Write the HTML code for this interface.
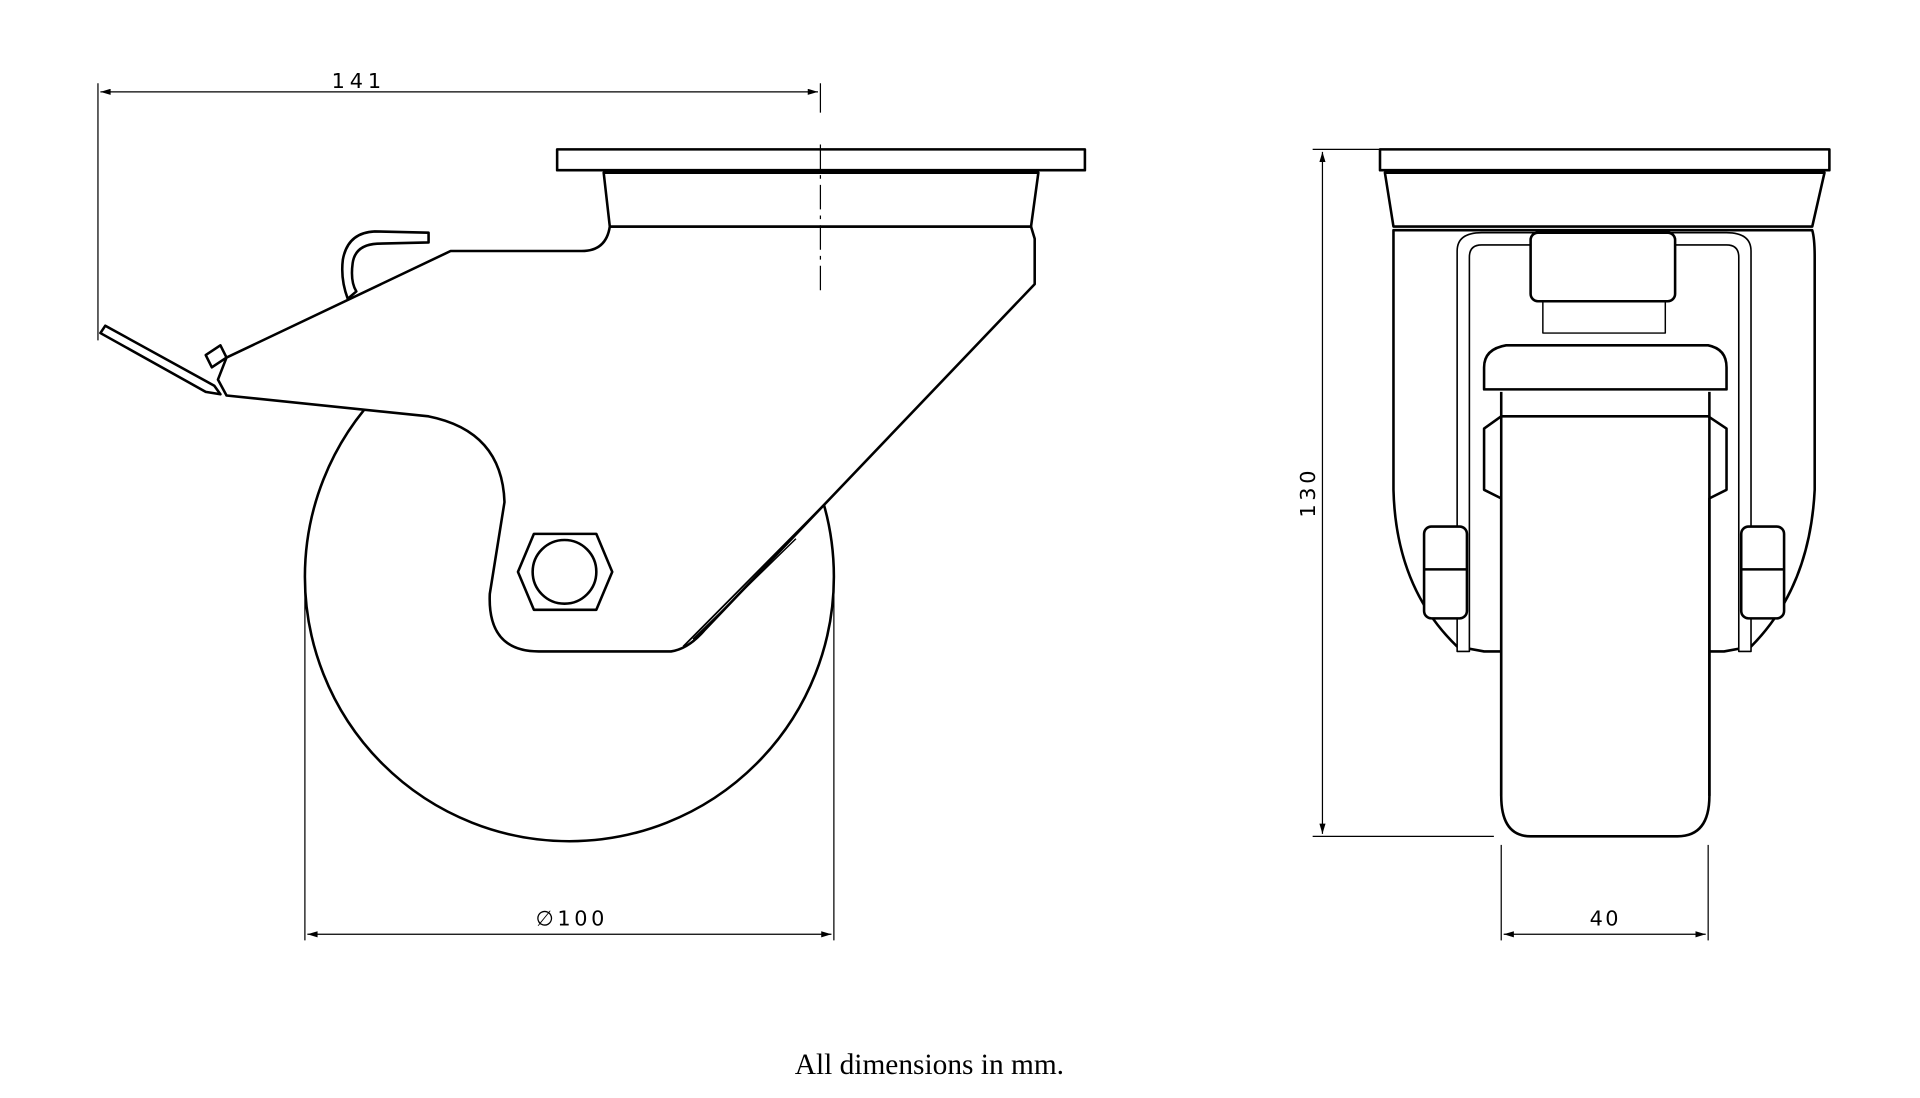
<!DOCTYPE html>
<html><head><meta charset="utf-8"><style>
html,body{margin:0;padding:0;background:#fff;}
svg{display:block;}
</style></head><body>
<svg width="1920" height="1098" viewBox="0 0 1568 896.7" preserveAspectRatio="none" xmlns="http://www.w3.org/2000/svg">
<defs>
<marker id="a" viewBox="0 0 10 6" refX="10" refY="3" markerWidth="14" markerHeight="5" orient="auto-start-reverse" markerUnits="userSpaceOnUse"><path d="M0,0 L10,3 L0,6 z" fill="#000"/></marker>
</defs>
<g fill="none" stroke="#000" stroke-width="1">
<line x1="80" y1="68" x2="80" y2="278"/>
<line x1="670" y1="68" x2="670" y2="92"/>
<line x1="82" y1="75" x2="668" y2="75" marker-start="url(#a)" marker-end="url(#a)"/>
<line x1="249" y1="470" x2="249" y2="768"/>
<line x1="681" y1="470" x2="681" y2="768"/>
<line x1="251" y1="763" x2="679" y2="763" marker-start="url(#a)" marker-end="url(#a)"/>
<line x1="1072" y1="122" x2="1127" y2="122"/>
<line x1="1072" y1="683" x2="1220" y2="683"/>
<line x1="1080" y1="124" x2="1080" y2="681" marker-start="url(#a)" marker-end="url(#a)"/>
<line x1="1226" y1="690" x2="1226" y2="768"/>
<line x1="1395" y1="690" x2="1395" y2="768"/>
<line x1="1228" y1="763" x2="1393" y2="763" marker-start="url(#a)" marker-end="url(#a)"/>
</g>
<g fill="#fff" stroke="#000" stroke-width="2.1" stroke-linejoin="round">
<circle cx="465" cy="471" r="216"/>
<path d="M498,185 Q495,205 475,205 L368,205 L185,292 L178,310 L185,323 L350,340 Q410,352 412,410 L400,485 Q398,532 440,532 L548,532 Q562,530 575,515 L845,232 L845,195 L842,185 Z"/>
<line x1="558" y1="528" x2="677" y2="408" stroke-width="1.5"/>
<line x1="566" y1="522" x2="650" y2="440" stroke-width="1.2"/>
<rect x="455" y="122" width="431" height="17"/>
<path d="M493,141 L848,141 L842,185 L498,185 Z"/>
<path d="M82,272 L86,266 L175,315 L180,322 L168,320 Z"/>
<path d="M168,290 L180,282 L185,292 L173,300 Z"/>
<path d="M350,190 L350,198 L308,199 Q290,200 288,215 Q286,230 291,238 L284,244 Q278,228 280,212 Q284,190 306,189 Z"/>
<polygon points="436,436 487,436 500,467 487,498 436,498 423,467"/>
<circle cx="461" cy="467" r="26"/>
<path d="M1138,188 L1480,188 Q1482,195 1482,210 L1482,400 Q1478,480 1430,528 L1408,532 L1212,532 L1190,528 Q1140,480 1138,400 L1138,210 Q1138,195 1138,188 Z"/>
<path d="M1190,205 Q1190,190 1210,190 L1410,190 Q1430,190 1430,205 L1430,532 L1420,532 L1420,210 Q1420,200 1410,200 L1210,200 Q1200,200 1200,210 L1200,532 L1190,532 Z" stroke-width="1.3"/>
<rect x="1163" y="430" width="35" height="75" rx="6"/>
<line x1="1163" y1="465" x2="1198" y2="465"/>
<rect x="1422" y="430" width="35" height="75" rx="6"/>
<line x1="1422" y1="465" x2="1457" y2="465"/>
<path d="M1212,350 L1226,340 L1395,340 L1410,350 L1410,400 L1396,407 L1396,650 Q1396,683 1370,683 L1250,683 Q1226,683 1226,650 L1226,407 L1212,400 Z"/>
<line x1="1226" y1="320" x2="1226" y2="650"/>
<line x1="1396" y1="320" x2="1396" y2="650"/>
<path d="M1260,245 L1360,245 L1360,272 L1260,272 Z" stroke-width="1.2"/>
<rect x="1250" y="190" width="118" height="56" rx="6"/>
<path d="M1212,300 Q1212,285 1230,282 L1395,282 Q1410,285 1410,300 L1410,318 L1212,318 Z"/>
<rect x="1127" y="122" width="367" height="17"/>
<path d="M1131,141 L1490,141 L1480,185 L1138,185 Z"/>
</g>
<line x1="670" y1="118" x2="670" y2="238" stroke="#000" stroke-width="1" stroke-dasharray="20,5,3,5"/>
<g font-family="'DejaVu Sans','Liberation Sans',sans-serif" font-size="17" fill="#000" text-anchor="middle">
<text x="293" y="72" letter-spacing="4">141</text>
<text x="467" y="756" letter-spacing="3">∅100</text>
<text x="1311" y="756" letter-spacing="2">40</text>
<text transform="translate(1074,402) rotate(-90)" letter-spacing="3">130</text>
</g>
<text x="759" y="877" font-family="'Liberation Serif',serif" font-size="24" text-anchor="middle" fill="#000">All dimensions in mm.</text>
</svg>
</body></html>
